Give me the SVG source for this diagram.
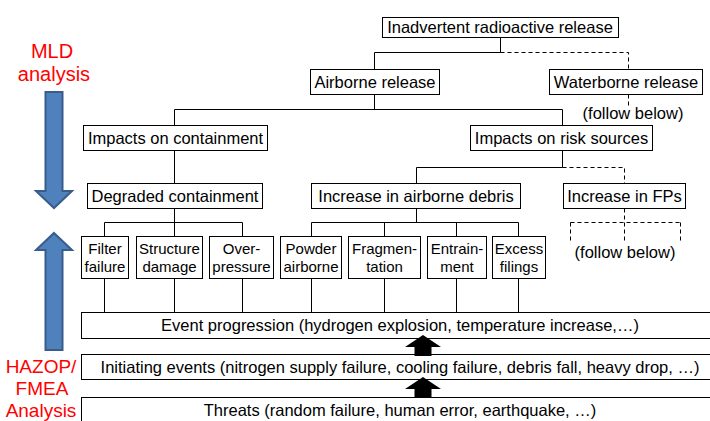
<svg xmlns="http://www.w3.org/2000/svg" width="710" height="421" viewBox="0 0 710 421">
<style>
.box{fill:#fff;stroke:#000;stroke-width:1}
.t{font-family:"Liberation Sans",Arial,sans-serif;font-size:16.5px;fill:#000;text-anchor:middle}
.s{font-family:"Liberation Sans",Arial,sans-serif;font-size:15px;fill:#000;text-anchor:middle}
.red{font-family:"Liberation Sans",Arial,sans-serif;font-size:20px;fill:#ff0000;text-anchor:middle}
.ln{fill:none;stroke:#000;stroke-width:1}
.dash{fill:none;stroke:#000;stroke-width:1;stroke-dasharray:4 3}
.blue{fill:#4f81bd;stroke:#385d8a;stroke-width:2}
</style>
<rect width="710" height="421" fill="#fff"/>
<g id="connectors">
<path class="ln" d="M500.5 37.5V52.5H374.5V69.5"/>
<path class="dash" d="M500.5 52.5H628.5V69.5"/>
<path class="dash" d="M628.5 94.5V107"/>
<path class="ln" d="M374.5 94.5V109.5M174.5 109.5H562.5M174.5 109.5V125.5M562.5 109.5V125.5"/>
<path class="ln" d="M174.5 150.5V183.5"/>
<path class="ln" d="M562.5 150.5V167.5H416.5V183.5"/>
<path class="dash" d="M562.5 167.5H624.5V183.5"/>
<path class="dash" d="M624.5 208.5V222.5M570.5 222.5H680.5M570.5 222.5V242M624.5 222.5V242M680.5 222.5V242"/>
<path class="ln" d="M174.5 208.5V222.5M104.5 222.5H242.5M104.5 222.5V236.5M174.5 222.5V236.5M242.5 222.5V236.5"/>
<path class="ln" d="M416.5 208.5V222.5M311.5 222.5H518.5M311.5 222.5V236.5M384.5 222.5V236.5M456.5 222.5V236.5M518.5 222.5V236.5"/>
<path class="ln" d="M104.5 278.5V312.5M174.5 278.5V312.5M242.5 278.5V312.5M311.5 278.5V312.5M384.5 278.5V312.5M456.5 278.5V312.5M518.5 278.5V312.5"/>
</g>
<g id="n-inadvertent"><rect class="box" x="382.5" y="17.5" width="236" height="20"/><text class="t" x="500" y="33">Inadvertent radioactive release</text></g>
<g id="n-airborne"><rect class="box" x="310.5" y="69.5" width="129" height="25"/><text class="t" x="375" y="88">Airborne release</text></g>
<g id="n-waterborne"><rect class="box" x="549.5" y="69.5" width="153" height="25"/><text class="t" x="626" y="88">Waterborne release</text></g>
<g id="n-follow1"><text class="t" x="633" y="119">(follow below)</text></g>
<g id="n-imp-cont"><rect class="box" x="83.5" y="125.5" width="184" height="25"/><text class="t" x="175.5" y="144">Impacts on containment</text></g>
<g id="n-imp-risk"><rect class="box" x="470.5" y="125.5" width="182" height="25"/><text class="t" x="561.5" y="144">Impacts on risk sources</text></g>
<g id="n-degraded"><rect class="box" x="87.5" y="183.5" width="175" height="25"/><text class="t" x="175" y="202">Degraded containment</text></g>
<g id="n-debris"><rect class="box" x="311.5" y="183.5" width="209" height="25"/><text class="t" x="416" y="202">Increase in airborne debris</text></g>
<g id="n-fps"><rect class="box" x="563.5" y="183.5" width="122" height="25"/><text class="t" x="624.5" y="202">Increase in FPs</text></g>
<g id="n-follow2"><text class="t" x="625" y="258">(follow below)</text></g>
<g id="n-filter"><rect class="box" x="81.5" y="236.5" width="47" height="42"/><text class="s" x="105" y="254">Filter</text><text class="s" x="105" y="272">failure</text></g>
<g id="n-structure"><rect class="box" x="136.5" y="236.5" width="66" height="42"/><text class="s" x="169.5" y="254">Structure</text><text class="s" x="169.5" y="272">damage</text></g>
<g id="n-over"><rect class="box" x="209.5" y="236.5" width="64" height="42"/><text class="s" x="241.5" y="254">Over-</text><text class="s" x="241.5" y="272">pressure</text></g>
<g id="n-powder"><rect class="box" x="280.5" y="236.5" width="61" height="42"/><text class="s" x="311" y="254">Powder</text><text class="s" x="311" y="272">airborne</text></g>
<g id="n-frag"><rect class="box" x="348.5" y="236.5" width="72" height="42"/><text class="s" x="384.5" y="254">Fragmen-</text><text class="s" x="384.5" y="272">tation</text></g>
<g id="n-entrain"><rect class="box" x="427.5" y="236.5" width="59" height="42"/><text class="s" x="457" y="254">Entrain-</text><text class="s" x="457" y="272">ment</text></g>
<g id="n-excess"><rect class="box" x="492.5" y="236.5" width="53" height="42"/><text class="s" x="519" y="254">Excess</text><text class="s" x="519" y="272">filings</text></g>
<g id="n-event"><rect class="box" x="81.5" y="312.5" width="640" height="26"/><text class="t" x="400" y="331">Event progression (hydrogen explosion, temperature increase,…)</text></g>
<g id="n-initiating"><rect class="box" x="81.5" y="354.5" width="640" height="25"/><text class="t" x="400" y="373">Initiating events (nitrogen supply failure, cooling failure, debris fall, heavy drop, …)</text></g>
<g id="n-threats"><rect class="box" x="81.5" y="397.5" width="640" height="30"/><text class="t" x="400" y="416">Threats (random failure, human error, earthquake, …)</text></g>
<g id="arrows-black" fill="#000">
<polygon points="423,335 441,347 431.5,347 431.5,356 414.5,356 414.5,347 405,347"/>
<polygon points="423,377 441,389 431.5,389 431.5,398 414.5,398 414.5,389 405,389"/>
</g>
<g id="mld">
<text class="red" x="52" y="58">MLD</text>
<text class="red" x="54" y="81">analysis</text>
<polygon class="blue" points="45.5,92 62.5,92 62.5,191 72,191 54,208 36,191 45.5,191"/>
</g>
<g id="hazop">
<polygon class="blue" points="54,233 72,250 62.5,250 62.5,350 45.5,350 45.5,250 36,250"/>
<text class="red" x="41" y="373" style="font-size:19px">HAZOP/</text>
<text class="red" x="42" y="395" style="font-size:19px">FMEA</text>
<text class="red" x="41" y="417" style="font-size:19px">Analysis</text>
</g>
</svg>
